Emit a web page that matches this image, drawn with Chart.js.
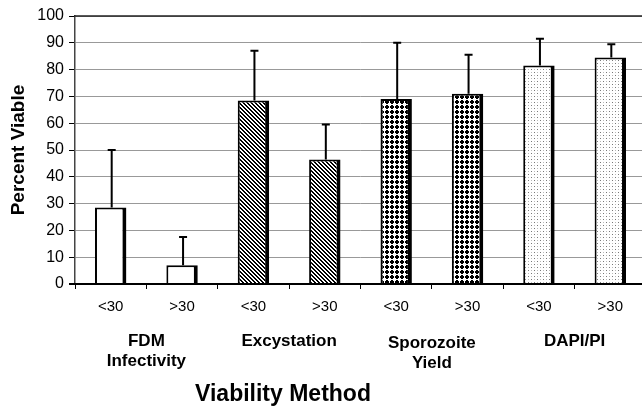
<!DOCTYPE html>
<html>
<head>
<meta charset="utf-8">
<script src="https://cdn.jsdelivr.net/npm/chart.js@4/dist/chart.umd.min.js"></script>
<style>
  html, body { margin: 0; padding: 0; background: #fff; overflow: hidden; }
  #wrap { width: 648px; height: 410px; }
</style>
</head>
<body>
<div id="wrap"><canvas id="myChart" width="648" height="410"></canvas></div>
<script>
// data
var categories = ['<30', '>30', '<30', '>30', '<30', '>30', '<30', '>30'];
var values = [28.5, 7, 68.5, 46.5, 69, 71, 81.5, 84.5];
var errors = [21.5, 10.5, 18.5, 13, 21, 14.5, 10, 5];
var groupLabels = [['FDM', 'Infectivity'], ['Excystation'], ['Sporozoite', 'Yield'], ['DAPI/PI']];
var yTicks = [0, 10, 20, 30, 40, 50, 60, 70, 80, 90, 100];

// fill patterns, one per method
function makePattern(size, draw) {
    var c = document.createElement('canvas');
    c.width = size; c.height = size;
    var g = c.getContext('2d');
    g.fillStyle = '#fff';
    g.fillRect(0, 0, size, size);
    draw(g);
    return g.createPattern(c, 'repeat');
}
var plain = '#ffffff';
var hatch = makePattern(4, function (g) {
    g.fillStyle = '#000';
    for (var i = 0; i < 4; i++) {
        g.fillRect(i, i, 1, 1);
        g.fillRect((i + 1) % 4, i, 1, 1);
    }
});
var checks = makePattern(5, function (g) {
    g.fillStyle = '#000';
    g.fillRect(0, 1, 4, 2);
    g.fillRect(1, 0, 2, 4);
});
var stipple = makePattern(6, function (g) {
    g.fillStyle = '#777';
    g.fillRect(0, 0, 1, 1);
    g.fillRect(3, 3, 1, 1);
    g.fillStyle = '#bbb';
    g.fillRect(3, 0, 1, 1);
    g.fillRect(0, 3, 1, 1);
});
var fills = [plain, plain, hatch, hatch, checks, checks, stipple, stipple];

var FONT = '"Liberation Sans", Arial, sans-serif';

// error bars, frame lines and the group captions
const extras = {
    id: 'extras',
    afterDatasetsDraw(chart) {
        const ctx = chart.ctx;
        const x = chart.scales.x, y = chart.scales.y;
        const area = chart.chartArea;
        ctx.save();
        ctx.strokeStyle = '#000';
        ctx.lineWidth = 2;
        values.forEach(function (v, i) {
            var px = x.getPixelForValue(i) + 1;
            var y0 = y.getPixelForValue(v);
            var y1 = y.getPixelForValue(v + errors[i]);
            ctx.beginPath();
            ctx.moveTo(px, y0);
            ctx.lineTo(px, y1);
            ctx.moveTo(px - 4, y1);
            ctx.lineTo(px + 4, y1);
            ctx.stroke();
        });
        // top frame
        ctx.lineWidth = 1.5;
        ctx.strokeStyle = '#222';
        ctx.beginPath();
        ctx.moveTo(area.left - 1, area.top);
        ctx.lineTo(chart.width, area.top);
        ctx.stroke();
        // bottom axis line
        ctx.lineWidth = 2;
        ctx.strokeStyle = '#000';
        ctx.beginPath();
        ctx.moveTo(area.left - 6, area.bottom);
        ctx.lineTo(chart.width, area.bottom);
        ctx.stroke();

        ctx.fillStyle = '#000';
        ctx.textAlign = 'center';
        ctx.textBaseline = 'middle';
        ctx.font = 'bold 17px ' + FONT;
        groupLabels.forEach(function (lines, k) {
            var cx = (x.getPixelForValue(2 * k) + x.getPixelForValue(2 * k + 1)) / 2;
            lines.forEach(function (t, j) {
                ctx.fillText(t, cx, 341 + j * 20 + (k === 2 ? 2 : 0));
            });
        });
        ctx.font = 'bold 23px ' + FONT;
        ctx.fillText('Viability Method', 283, 395);
        ctx.restore();
    }
};

const ctx = document.getElementById('myChart');
const myChart = new Chart(ctx, {
    type: 'bar',
    data: {
        labels: categories,
        datasets: [{
            label: 'Percent Viable',
            data: values,
            backgroundColor: fills,
            borderColor: '#000',
            borderWidth: { top: 2, left: 2, right: 4, bottom: 0 },
            borderSkipped: false,
            categoryPercentage: 1,
            barPercentage: 0.44
        }]
    },
    options: {
        responsive: false,
        animation: false,
        devicePixelRatio: 1,
        layout: { padding: { top: 16, right: 2, left: 0, bottom: 0 } },
        plugins: {
            legend: { display: false },
            tooltip: { enabled: false }
        },
        scales: {
            x: {
                afterFit: function (s) { s.height = 126; },
                grid: {
                    offset: true,
                    drawOnChartArea: false,
                    tickLength: 5,
                    tickColor: '#000',
                    tickWidth: 1
                },
                border: { display: false },
                ticks: {
                    color: '#000',
                    padding: 9,
                    maxRotation: 0,
                    font: { family: FONT, size: 15 }
                }
            },
            y: {
                min: 0,
                max: 100,
                afterFit: function (s) { s.width = 75; },
                afterBuildTicks: function (s) {
                    s.ticks = yTicks.map(function (v) { return { value: v }; });
                },
                grid: {
                    color: '#999',
                    lineWidth: 1,
                    tickLength: 6,
                    tickColor: '#000'
                },
                border: { color: '#444', width: 1.5 },
                ticks: {
                    color: '#000',
                    padding: 5,
                    font: { family: FONT, size: 16 }
                },
                title: {
                    display: true,
                    text: 'Percent Viable',
                    color: '#000',
                    padding: { top: 7, bottom: 0 },
                    font: { family: FONT, size: 19, weight: 'bold' }
                }
            }
        }
    },
    plugins: [extras]
});
myChart.update();
</script>
</body>
</html>
